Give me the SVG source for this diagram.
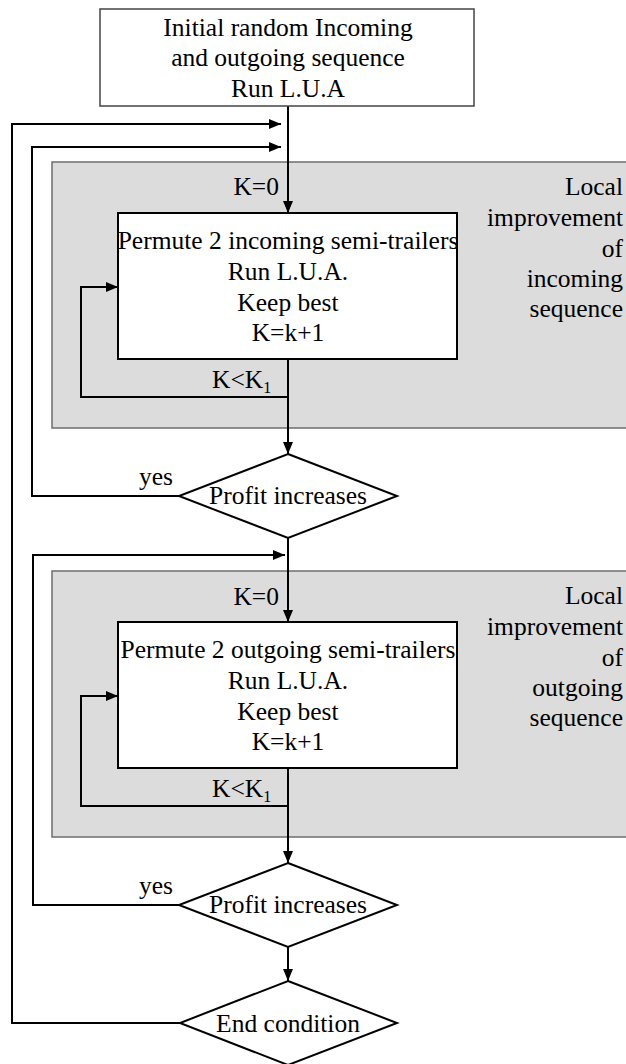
<svg xmlns="http://www.w3.org/2000/svg" width="626" height="1064" viewBox="0 0 626 1064">
  <style>
    text { font-family: "Liberation Serif", "Times New Roman", serif; font-size: 25.5px; fill: #000; }
    .c { text-anchor: middle; }
    .r { text-anchor: end; }
    .sub { font-size: 16px; }
    .region { fill: #dcdcdc; stroke: #6e6e6e; stroke-width: 1.5; }
    .box { fill: #fff; stroke: #000; stroke-width: 2; }
    .start { fill: #fff; stroke: #444; stroke-width: 1.5; }
    .dia { fill: #fff; stroke: #000; stroke-width: 2; }
    .wire { fill: none; stroke: #000; stroke-width: 2; }
    .arr { marker-end: url(#head); }
  </style>
  <defs>
    <marker id="head" markerWidth="12" markerHeight="10" refX="12" refY="5" orient="auto" markerUnits="userSpaceOnUse">
      <path d="M0,0 L12,5 L0,10 z" fill="#000"/>
    </marker>
  </defs>

  <!-- shaded regions for the two local improvement phases -->
  <g id="region-incoming">
    <rect class="region" x="52" y="162" width="580" height="266"/>
    <text class="r" x="623" y="195">Local</text>
    <text class="r" x="623" y="226">improvement</text>
    <text class="r" x="623" y="257">of</text>
    <text class="r" x="623" y="287">incoming</text>
    <text class="r" x="623" y="317">sequence</text>
  </g>
  <g id="region-outgoing">
    <rect class="region" x="52" y="571" width="580" height="266"/>
    <text class="r" x="623" y="604">Local</text>
    <text class="r" x="623" y="635">improvement</text>
    <text class="r" x="623" y="666">of</text>
    <text class="r" x="623" y="696">outgoing</text>
    <text class="r" x="623" y="726">sequence</text>
  </g>

  <!-- connectors -->
  <g id="connectors">
    <path class="wire arr" d="M288,106 V213"/>
    <path class="wire arr" d="M288,359 V454"/>
    <path class="wire arr" d="M288,397 H81 V287 H118"/>
    <path class="wire arr" d="M179,496 H32 V147 H281"/>
    <path class="wire arr" d="M288,538 V622"/>
    <path class="wire arr" d="M288,768 V863"/>
    <path class="wire arr" d="M288,806 H81 V696 H118"/>
    <path class="wire arr" d="M179,905 H33 V555 H285"/>
    <path class="wire arr" d="M288,947 V981"/>
    <path class="wire arr" d="M180,1023 H12 V124 H281"/>
  </g>

  <!-- connector labels -->
  <g id="labels">
    <text class="r" x="279" y="195">K=0</text>
    <text class="r" x="279" y="605">K=0</text>
    <text x="212" y="388">K&lt;K<tspan class="sub" dy="5">1</tspan></text>
    <text x="212" y="797">K&lt;K<tspan class="sub" dy="5">1</tspan></text>
    <text x="139" y="485">yes</text>
    <text x="139" y="894">yes</text>
  </g>

  <g id="start">
    <rect class="start" x="100" y="9" width="374" height="97"/>
    <text class="c" x="288" y="36">Initial random Incoming</text>
    <text class="c" x="288" y="66">and outgoing sequence</text>
    <text class="c" x="288" y="97">Run L.U.A</text>
  </g>

  <g id="permute-incoming">
    <rect class="box" x="118" y="213" width="339" height="146"/>
    <text class="c" x="288" y="249">Permute 2 incoming semi-trailers</text>
    <text class="c" x="288" y="280">Run L.U.A.</text>
    <text class="c" x="288" y="311">Keep best</text>
    <text class="c" x="288" y="341">K=k+1</text>
  </g>

  <g id="profit-incoming">
    <polygon class="dia" points="288,454 397,496 288,538 179,496"/>
    <text class="c" x="288" y="504">Profit increases</text>
  </g>

  <g id="permute-outgoing">
    <rect class="box" x="118" y="622" width="339" height="146"/>
    <text class="c" x="288" y="658">Permute 2 outgoing semi-trailers</text>
    <text class="c" x="288" y="689">Run L.U.A.</text>
    <text class="c" x="288" y="720">Keep best</text>
    <text class="c" x="288" y="750">K=k+1</text>
  </g>

  <g id="profit-outgoing">
    <polygon class="dia" points="288,863 397,905 288,947 179,905"/>
    <text class="c" x="288" y="913">Profit increases</text>
  </g>

  <g id="end-condition">
    <polygon class="dia" points="288,981 397,1023 288,1065 180,1023"/>
    <text class="c" x="288" y="1032">End condition</text>
  </g>
</svg>
